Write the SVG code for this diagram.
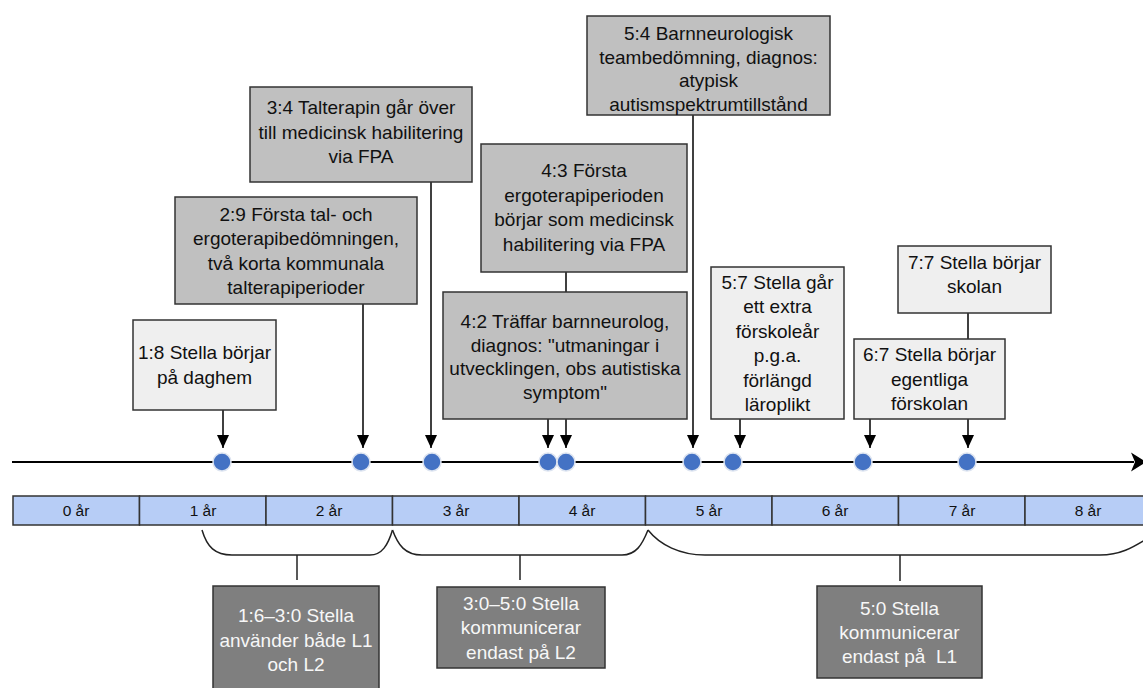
<svg xmlns="http://www.w3.org/2000/svg" width="1143" height="688" viewBox="0 0 1143 688">
<style>
.bx{stroke:#333;stroke-width:1.5}
.lt{fill:#efefef}
.gr{fill:#c0c0c0}
.dk{fill:#7f7f7f}
text{font-family:"Liberation Sans",Arial,sans-serif;font-size:19px;text-anchor:middle;fill:#111}
.wt{fill:#f7f7f7}
.yr{font-size:15.5px}
.cn{stroke:#000;stroke-width:1.5;fill:none}
.br{stroke:#222;stroke-width:1.5;fill:none}
.dot{fill:#4472c4;stroke:#dde4f0;stroke-width:1.5}
.cell{fill:#b7cdf6;stroke:#333;stroke-width:1.5}
</style>
<defs>
<marker id="ah" markerUnits="userSpaceOnUse" markerWidth="13" markerHeight="12" refX="13" refY="6" orient="auto">
<path d="M0,0 L13,6 L0,12 z" fill="#000"/>
</marker>
</defs>
<rect width="1143" height="688" fill="#fff"/>

<g id="timeline">
<line x1="12" y1="462" x2="1134" y2="462" stroke="#000" stroke-width="2"/>
<polygon points="1131,452.5 1146,462 1131,471.5 1135,462" fill="#000"/>
</g>

<g id="years">
<rect class="cell" x="13" y="496" width="126.5" height="29"/>
<rect class="cell" x="139.5" y="496" width="126.5" height="29"/>
<rect class="cell" x="266" y="496" width="126.5" height="29"/>
<rect class="cell" x="392.5" y="496" width="126.5" height="29"/>
<rect class="cell" x="519" y="496" width="126.5" height="29"/>
<rect class="cell" x="645.5" y="496" width="126.5" height="29"/>
<rect class="cell" x="772" y="496" width="126.5" height="29"/>
<rect class="cell" x="898.5" y="496" width="126.5" height="29"/>
<rect class="cell" x="1025" y="496" width="126.5" height="29"/>
<text class="yr" x="76" y="516">0 år</text>
<text class="yr" x="203" y="516">1 år</text>
<text class="yr" x="329" y="516">2 år</text>
<text class="yr" x="456" y="516">3 år</text>
<text class="yr" x="582" y="516">4 år</text>
<text class="yr" x="709" y="516">5 år</text>
<text class="yr" x="835" y="516">6 år</text>
<text class="yr" x="962" y="516">7 år</text>
<text class="yr" x="1088" y="516">8 år</text>
</g>

<g id="connectors">
<line class="cn" x1="223" y1="410" x2="223" y2="448" marker-end="url(#ah)"/>
<line class="cn" x1="363" y1="304" x2="363" y2="448" marker-end="url(#ah)"/>
<line class="cn" x1="431" y1="182" x2="431" y2="448" marker-end="url(#ah)"/>
<line class="cn" x1="566" y1="272" x2="566" y2="292"/>
<line class="cn" x1="548" y1="419" x2="548" y2="448" marker-end="url(#ah)"/>
<line class="cn" x1="566" y1="419" x2="566" y2="448" marker-end="url(#ah)"/>
<line class="cn" x1="693" y1="115" x2="693" y2="448" marker-end="url(#ah)"/>
<line class="cn" x1="740" y1="419" x2="740" y2="448" marker-end="url(#ah)"/>
<line class="cn" x1="968" y1="313" x2="968" y2="339"/>
<line class="cn" x1="870" y1="419" x2="870" y2="448" marker-end="url(#ah)"/>
<line class="cn" x1="968" y1="419" x2="968" y2="448" marker-end="url(#ah)"/>
<path class="br" d="M202,530 C207,547 215,555 232,555 L370,555 C382,555 388,545 392.5,530"/>
<path class="br" d="M392.5,530 C398,545 405,555 422,555 L622,555 C636,555 642,545 648,530"/>
<path class="br" d="M648,530 C660,545 680,555 705,555 L1100,555 C1120,555 1132,548 1148,538"/>
<line class="br" x1="297" y1="555" x2="297" y2="580"/>
<line class="br" x1="520" y1="555" x2="520" y2="580"/>
<line class="br" x1="900" y1="555" x2="900" y2="581"/>
</g>

<g id="dots">
<circle class="dot" cx="222" cy="462" r="9"/>
<circle class="dot" cx="361" cy="462" r="9"/>
<circle class="dot" cx="432" cy="462" r="9"/>
<circle class="dot" cx="548" cy="462" r="9"/>
<circle class="dot" cx="566" cy="462" r="9"/>
<circle class="dot" cx="692" cy="462" r="9"/>
<circle class="dot" cx="733" cy="462" r="9"/>
<circle class="dot" cx="863" cy="462" r="9"/>
<circle class="dot" cx="967" cy="462" r="9"/>
</g>

<g id="n18">
<rect class="bx lt" x="133" y="320" width="143" height="90"/>
<text x="204.5" y="359">1:8 Stella börjar</text>
<text x="204.5" y="384">på daghem</text>
</g>

<g id="n29">
<rect class="bx gr" x="175" y="197" width="242" height="107"/>
<text x="296" y="220.5">2:9 Första tal- och</text>
<text x="296" y="245">ergoterapibedömningen,</text>
<text x="296" y="269.5">två korta kommunala</text>
<text x="296" y="294">talterapiperioder</text>
</g>

<g id="n34">
<rect class="bx gr" x="250" y="87" width="222" height="95"/>
<text x="361" y="114">3:4 Talterapin går över</text>
<text x="361" y="138.5">till medicinsk habilitering</text>
<text x="361" y="163">via FPA</text>
</g>

<g id="n43">
<rect class="bx gr" x="481" y="144" width="206" height="128"/>
<text x="584" y="177">4:3 Första</text>
<text x="584" y="201.5">ergoterapiperioden</text>
<text x="584" y="226">börjar som medicinsk</text>
<text x="584" y="250.5">habilitering via FPA</text>
</g>

<g id="n42">
<rect class="bx gr" x="443" y="292" width="244" height="127"/>
<text x="565" y="328">4:2 Träffar barnneurolog,</text>
<text x="565" y="351.5">diagnos: "utmaningar i</text>
<text x="565" y="375">utvecklingen, obs autistiska</text>
<text x="565" y="398.5">symptom"</text>
</g>

<g id="n54">
<rect class="bx gr" x="587" y="16" width="243" height="99"/>
<text x="708.5" y="40">5:4 Barnneurologisk</text>
<text x="708.5" y="63.5">teambedömning, diagnos:</text>
<text x="708.5" y="87">atypisk</text>
<text x="708.5" y="110.5">autismspektrumtillstånd</text>
</g>

<g id="n57">
<rect class="bx lt" x="711" y="267" width="133" height="152"/>
<text x="777.5" y="288.5">5:7 Stella går</text>
<text x="777.5" y="313">ett extra</text>
<text x="777.5" y="337.5">förskoleår</text>
<text x="777.5" y="362">p.g.a.</text>
<text x="777.5" y="386.5">förlängd</text>
<text x="777.5" y="411">läroplikt</text>
</g>

<g id="n77">
<rect class="bx lt" x="898" y="246" width="153" height="67"/>
<text x="974.5" y="269">7:7 Stella börjar</text>
<text x="974.5" y="293">skolan</text>
</g>

<g id="n67">
<rect class="bx lt" x="854" y="339" width="151" height="80"/>
<text x="929.5" y="361.3">6:7 Stella börjar</text>
<text x="929.5" y="385.8">egentliga</text>
<text x="929.5" y="410.3">förskolan</text>
</g>

<g id="p1">
<rect class="bx dk" x="213" y="586" width="166" height="110"/>
<text class="wt" x="296" y="622">1:6–3:0 Stella</text>
<text class="wt" x="296" y="646.5">använder både L1</text>
<text class="wt" x="296" y="671">och L2</text>
</g>

<g id="p2">
<rect class="bx dk" x="437" y="587" width="168" height="81"/>
<text class="wt" x="521" y="610">3:0–5:0 Stella</text>
<text class="wt" x="521" y="634">kommunicerar</text>
<text class="wt" x="521" y="658.5">endast på L2</text>
</g>

<g id="p3">
<rect class="bx dk" x="817" y="586" width="165" height="92"/>
<text class="wt" x="899.5" y="614.5">5:0 Stella</text>
<text class="wt" x="899.5" y="638.5">kommunicerar</text>
<text class="wt" x="899.5" y="662.5" xml:space="preserve">endast på  L1</text>
</g>
</svg>
